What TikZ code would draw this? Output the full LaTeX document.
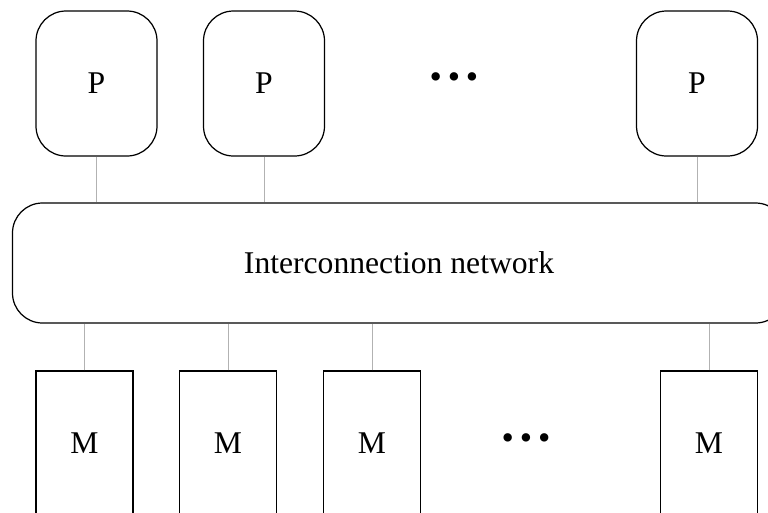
\documentclass[tikz,border=0pt]{standalone}
\usepackage{fontspec}
\setmainfont{Liberation Serif}
\usepackage{tikz}

\begin{document}
\begin{tikzpicture}[
      font=\fontsize{18}{21}\selectfont,
      proc/.style={draw,line width=0.7pt,rounded corners=0.6cm,minimum width=2.42cm,minimum height=2.9cm,inner sep=0pt},
      mem/.style={draw,line width=0.7pt,minimum width=1.94cm,minimum height=2.9cm,inner sep=0pt},
      net/.style={draw,line width=0.7pt,rounded corners=0.6cm,minimum width=15.46cm,minimum height=2.4cm,inner sep=0pt},
      link/.style={draw=gray!60,line width=0.5pt},
      dots/.style={font=\fontsize{20}{20}\selectfont}
    ]
      \useasboundingbox (0,0) rectangle (15.36,-10.24);
      \clip (0,0) rectangle (15.36,-10.24);

      \node[proc] (p1) at (1.93,-1.67) {P};
      \node[proc] (p2) at (5.28,-1.67) {P};
      \node[dots] (pd) at (9.08,-1.62) {•\,•\,•};
      \node[proc] (p3) at (13.94,-1.67) {P};

      \node[net] (net) at (7.98,-5.26) {Interconnection network};

      \node[mem] (m1) at (1.69,-8.87) {M};
      \node[mem] (m2) at (4.56,-8.87) {M};
      \node[mem] (m3) at (7.44,-8.87) {M};
      \node[dots] (md) at (10.52,-8.84) {•\,•\,•};
      \node[mem] (m4) at (14.18,-8.87) {M};

      \draw[link] (p1.south) -- (p1.south |- net.north);
      \draw[link] (p2.south) -- (p2.south |- net.north);
      \draw[link] (p3.south) -- (p3.south |- net.north);

      \draw[link] (m1.north) -- (m1.north |- net.south);
      \draw[link] (m2.north) -- (m2.north |- net.south);
      \draw[link] (m3.north) -- (m3.north |- net.south);
      \draw[link] (m4.north) -- (m4.north |- net.south);
    \end{tikzpicture}
\end{document}
